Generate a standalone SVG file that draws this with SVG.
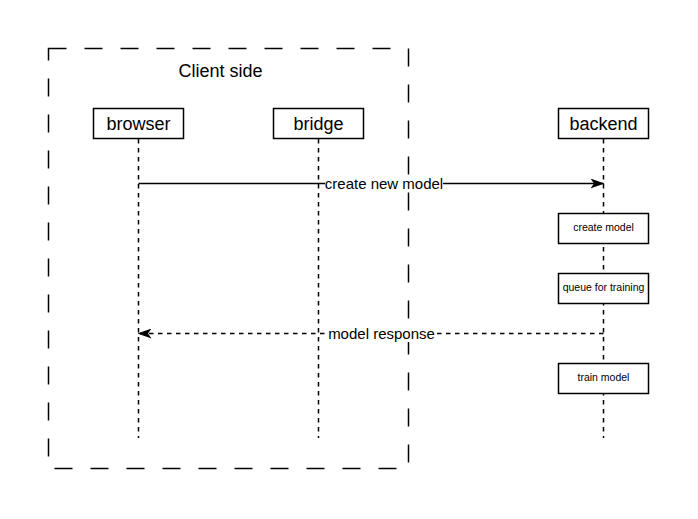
<svg xmlns="http://www.w3.org/2000/svg" width="698" height="519" viewBox="0 0 698 519">
<style>
text{font-family:"Liberation Sans",Arial,sans-serif;fill:#000;text-anchor:middle}
.box{fill:#fff;stroke:#000;stroke-width:1.5}
.life{stroke:#000;stroke-width:1.5;stroke-dasharray:4.5 4.5;fill:none}
.big{font-size:18px}
.small{font-size:10.5px}
.lbl{font-size:15px}
</style>
<defs>
<marker id="arr" viewBox="0 0 14 10" refX="13" refY="5" markerWidth="14" markerHeight="10" markerUnits="userSpaceOnUse" orient="auto">
<path d="M0,0 L14,5 L0,10 L3.5,5 Z" fill="#000"/>
</marker>
</defs>
<rect x="0" y="0" width="698" height="519" fill="#fff"/>
<g id="client-side">
<path d="M48.5,48.5 H408.5 V468.5 H48.5 Z" fill="none" stroke="#000" stroke-width="1.5" stroke-dasharray="18 18"/>
<text class="big" x="220.5" y="77">Client side</text>
</g>
<g id="lifelines">
<line class="life" x1="138.5" y1="139" x2="138.5" y2="438"/>
<line class="life" x1="318.5" y1="139" x2="318.5" y2="438"/>
<line class="life" x1="603.5" y1="139" x2="603.5" y2="438"/>
</g>
<g id="browser">
<rect class="box" x="93.5" y="108.5" width="90" height="30"/>
<text class="big" x="138.5" y="130">browser</text>
</g>
<g id="bridge">
<rect class="box" x="273.5" y="108.5" width="90" height="30"/>
<text class="big" x="318.5" y="130">bridge</text>
</g>
<g id="backend">
<rect class="box" x="558.5" y="108.5" width="90" height="30"/>
<text class="big" x="603.5" y="130">backend</text>
</g>
<g id="create-model">
<rect class="box" x="558.5" y="213.5" width="90" height="30"/>
<text class="small" x="603.5" y="231">create model</text>
</g>
<g id="queue-for-training">
<rect class="box" x="558.5" y="273.5" width="90" height="30"/>
<text class="small" x="603.5" y="291">queue for training</text>
</g>
<g id="train-model">
<rect class="box" x="558.5" y="363.5" width="90" height="30"/>
<text class="small" x="603.5" y="381">train model</text>
</g>
<g id="connectors">
<line x1="138.5" y1="183.5" x2="603.5" y2="183.5" stroke="#000" stroke-width="1.5" marker-end="url(#arr)"/>
<rect x="325" y="175" width="118" height="17" fill="#fff"/>
<text class="lbl" x="384" y="188.5">create new model</text>
<line x1="603.5" y1="333.5" x2="138.5" y2="333.5" stroke="#000" stroke-width="1.5" stroke-dasharray="4.5 4.5" marker-end="url(#arr)"/>
<rect x="325" y="325" width="112" height="17" fill="#fff"/>
<text class="lbl" x="381.5" y="338.5">model response</text>
</g>
</svg>
